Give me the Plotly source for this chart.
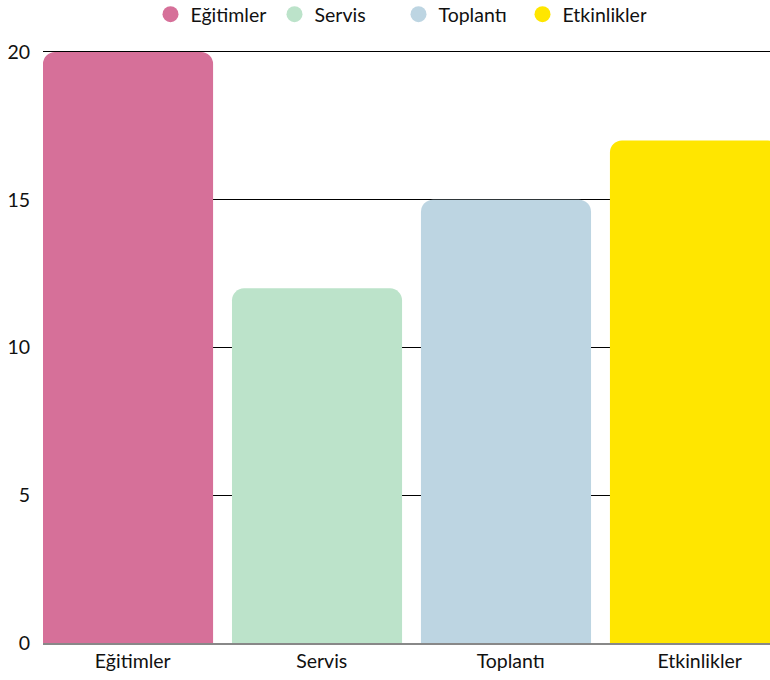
import plotly.graph_objects as go

categories = ["Eğitimler", "Servis", "Toplantı", "Etkinlikler"]
values = [20, 12, 15, 17]
colors = ["#D67099", "#BCE3CA", "#BDD5E2", "#FFE600"]
y_ticks = [0, 5, 10, 15, 20]

FONT = "Lato"
FS = 19.5
fig = go.Figure()

fig.add_trace(go.Bar(
    x=categories, y=values,
    marker=dict(color=colors, line=dict(width=0)),
    width=0.9, offset=-0.475,
    showlegend=False, hoverinfo="x+y",
))

for name, col in zip(categories, colors):
    fig.add_trace(go.Scatter(
        x=[None], y=[None], mode="markers", name=name,
        marker=dict(color=col, size=16, symbol="circle"),
        showlegend=True,
    ))

fig.update_layout(
    width=770, height=680,
    margin=dict(l=43, r=0, t=49, b=37),
    paper_bgcolor="white", plot_bgcolor="white",
    font=dict(family=FONT, size=FS, color="#111111"),
    barcornerradius=12,
    legend=dict(
        orientation="h", xref="paper", x=0.489, xanchor="center",
        yref="container", y=0.9787, yanchor="middle",
        entrywidth=79, entrywidthmode="pixels",
        font=dict(family=FONT, size=FS, color="#111111"),
        itemsizing="trace", itemclick=False, itemdoubleclick=False,
    ),
    xaxis=dict(
        type="category", range=[-0.475, 3.372],
        showgrid=False, showline=True, linecolor="#888888", linewidth=1.5,
        ticks="", tickfont=dict(family=FONT, size=FS, color="#111111"),
    ),
    yaxis=dict(
        range=[0, 20.1], tickvals=y_ticks,
        showgrid=True, gridcolor="#000000", gridwidth=1,
        zeroline=False, showline=False, ticks="",
        ticklabelstandoff=12,
        tickfont=dict(family=FONT, size=FS, color="#111111"),
    ),
)

fig.write_html(
    "out.html",
    config={"displayModeBar": False},
    post_script="document.body.style.margin='0';document.body.style.overflow='hidden';",
)
